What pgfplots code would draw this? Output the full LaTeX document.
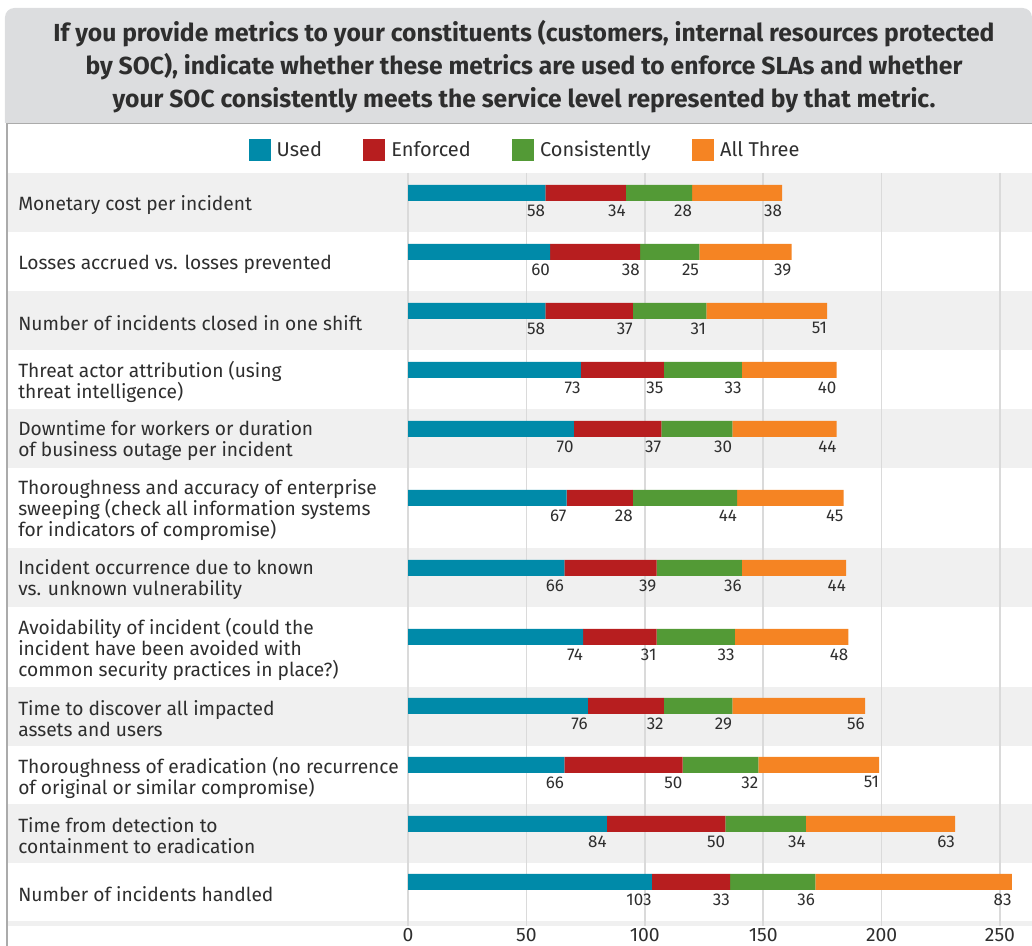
\documentclass[border=0pt]{standalone}
\usepackage{fontspec}
\setmainfont{Fira Sans}
\usepackage{pgfplots}
\pgfplotsset{compat=1.18}
\usepackage{pgfplotstable}
\definecolor{cUsed}{HTML}{008AA9}
\definecolor{cEnf}{HTML}{B71E1F}
\definecolor{cCon}{HTML}{539A36}
\definecolor{cAll}{HTML}{F58423}
\definecolor{rowg}{HTML}{F0F0F0}
\definecolor{titleg}{HTML}{DCDDDF}
\definecolor{gridc}{HTML}{DADADA}
\definecolor{bordc}{HTML}{ABABAB}
\definecolor{txt}{HTML}{2E2E2E}

\pgfplotstableread{
y used enf con all
193 58 34 28 38
252 60 38 25 39
311 58 37 31 51
370 73 35 33 40
429 70 37 30 44
498 67 28 44 45
568 66 39 36 44
637 74 31 33 48
706 76 32 29 56
765 66 50 32 51
824 84 50 34 63
882 103 33 36 83
}\data

\pgfplotsset{base/.style={
  scale only axis, width=468pt, height=564.75pt,
  xmin=0, xmax=263.51, ymin=173, ymax=926, y dir=reverse,
  axis line style={draw=none}, major tick length=0pt,
  clip=false, at={(0,0)}, anchor=south west}}

\begin{document}
\begin{tikzpicture}
% background axis
\begin{axis}[base, xtick=\empty, ytick=\empty]
\fill[titleg] (axis cs:-170.19,123) [rounded corners=7pt] -- (axis cs:-170.19,8) -- (axis cs:263.51,8) [sharp corners] -- (axis cs:263.51,123) -- cycle;
\fill[rowg] (axis cs:-169.13,173) rectangle (axis cs:263.51,232);
\fill[rowg] (axis cs:-169.13,291) rectangle (axis cs:263.51,350);
\fill[rowg] (axis cs:-169.13,409) rectangle (axis cs:263.51,468);
\fill[rowg] (axis cs:-169.13,548) rectangle (axis cs:263.51,607);
\fill[rowg] (axis cs:-169.13,687) rectangle (axis cs:263.51,746);
\fill[rowg] (axis cs:-169.13,804) rectangle (axis cs:263.51,863);
\fill[rowg] (axis cs:-169.13,921) rectangle (axis cs:263.51,926);
\draw[bordc, line width=1.2pt] (axis cs:-169.13,123.5) -- (axis cs:263.51,123.5);
\draw[bordc, line width=1.5pt] (axis cs:-169.13,123) -- (axis cs:-169.13,946);
\draw[gridc, line width=1.1pt] (axis cs:0,173) -- (axis cs:0,926);
\draw[gridc, line width=1.1pt] (axis cs:50,173) -- (axis cs:50,926);
\draw[gridc, line width=1.1pt] (axis cs:100,173) -- (axis cs:100,926);
\draw[gridc, line width=1.1pt] (axis cs:150,173) -- (axis cs:150,926);
\draw[gridc, line width=1.1pt] (axis cs:200,173) -- (axis cs:200,926);
\draw[gridc, line width=1.1pt] (axis cs:250,173) -- (axis cs:250,926);
\node[align=center, text=txt, font=\bfseries\fontsize{18.5}{24.75}\selectfont] at (axis cs:48.99,66.5) {If you provide metrics to your constituents (customers, internal resources protected\\by SOC), indicate whether these metrics are used to enforce SLAs and whether\\your SOC consistently meets the service level represented by that metric.};
\coordinate (pTL) at (axis cs:-172.30,0);
\coordinate (pBR) at (axis cs:263.51,946);
\end{axis}
% data axis
\begin{axis}[base,
  xbar stacked, bar width=12pt,
  /pgf/number format/assume math mode=true,
  xtick={0,50,...,250},
  xticklabel style={font=\fontsize{14.5}{17}\selectfont, text=txt, inner sep=0pt, anchor=north, yshift=-1.5pt},
  ytick={202.5,261.5,320.5,379.5,438.5,508,577.5,647,716.5,775,833.5,892},
  yticklabels={
    {Monetary cost per incident},
    {Losses accrued vs. losses prevented},
    {Number of incidents closed in one shift},
    {Threat actor attribution (using\\threat intelligence)},
    {Downtime for workers or duration\\of business outage per incident},
    {Thoroughness and accuracy of enterprise\\sweeping (check all information systems\\for indicators of compromise)},
    {Incident occurrence due to known\\vs. unknown vulnerability},
    {Avoidability of incident (could the\\incident have been avoided with\\common security practices in place?)},
    {Time to discover all impacted\\assets and users},
    {Thoroughness of eradication (no recurrence\\of original or similar compromise)},
    {Time from detection to\\containment to eradication},
    {Number of incidents handled}},
  yticklabel style={anchor=west, align=left, inner sep=0pt, xshift=-292.5pt, yshift=-1.9pt,
    font=\fontsize{14.4}{15.75}\selectfont, text=txt},
  nodes near coords, point meta=rawx,
  visualization depends on={rawx \as \rawval},
  every node near coord/.append style={anchor=north east, inner sep=0pt, yshift=-8.5pt,
    xshift=\rawval*0.888pt,
    font=\fontsize{12.75}{14}\selectfont, text=txt},
  legend columns=4,
  legend style={at={(0.186,1.0305)}, anchor=center, draw=none, fill=none,
    font=\fontsize{15}{17}\selectfont, text=txt,
    /tikz/every even column/.append style={column sep=31pt},
    /tikz/every odd column/.append style={column sep=4.5pt},
    nodes={inner sep=0pt}},
  legend image code/.code={\fill[#1] (0pt,-8.25pt) rectangle (16.5pt,8.25pt);},
]
\addplot[fill=cUsed, draw=none] table[x=used, y=y] {\data};
\addplot[fill=cEnf, draw=none] table[x=enf, y=y] {\data};
\addplot[fill=cCon, draw=none] table[x=con, y=y] {\data};
\addplot[fill=cAll, draw=none] table[x=all, y=y] {\data};
\legend{Used, Enforced, Consistently, All Three}
\end{axis}
\pgfresetboundingbox
\path[use as bounding box] (pTL) rectangle (pBR);
\end{tikzpicture}
\end{document}
